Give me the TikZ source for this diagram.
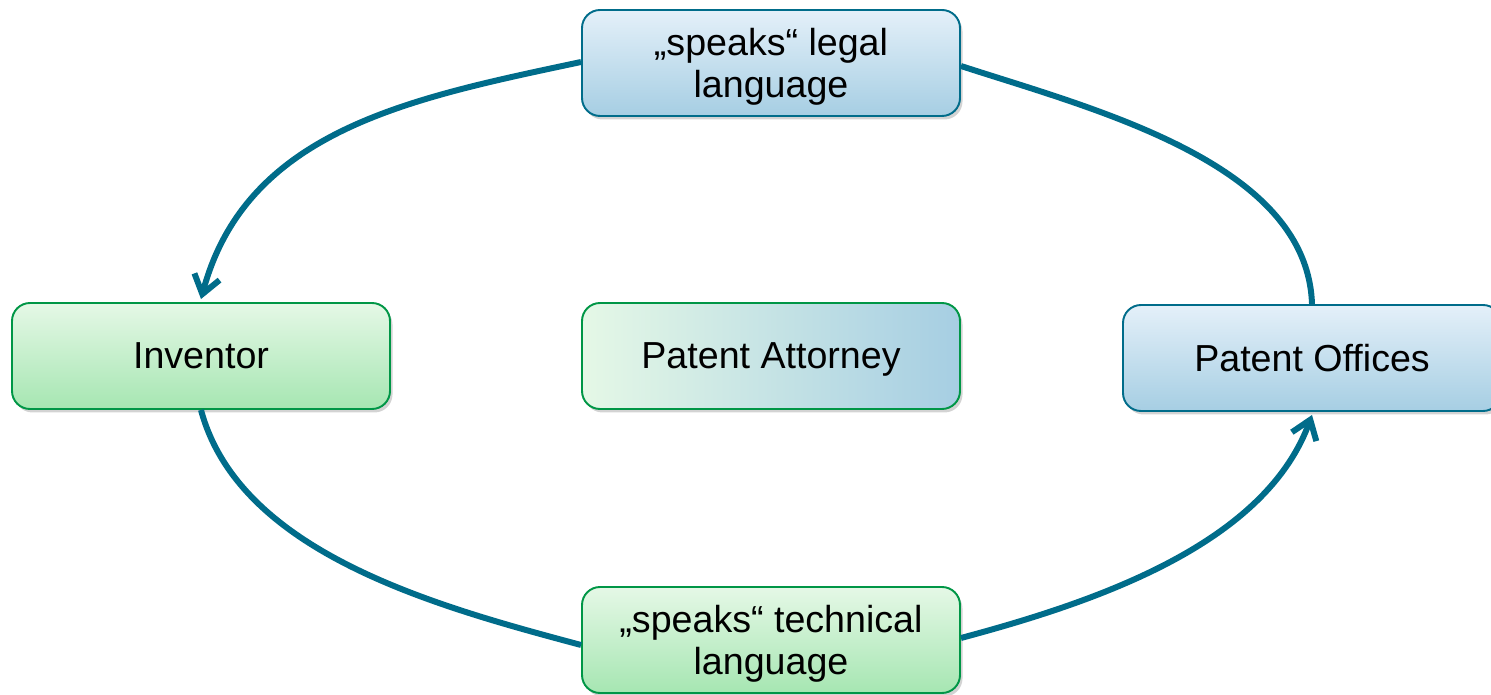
\documentclass[tikz,border=0pt]{standalone}
\usepackage{fontspec}
\setmainfont{Liberation Sans}
\usetikzlibrary{arrows.meta,shadows}
\definecolor{flowteal}{RGB}{0,108,138}
\definecolor{greenline}{RGB}{0,150,70}
\definecolor{greentop}{RGB}{229,248,230}
\definecolor{greenbot}{RGB}{166,230,178}
\definecolor{bluetop}{RGB}{228,240,249}
\definecolor{bluebot}{RGB}{166,206,227}
\begin{document}
\begin{tikzpicture}[
		box/.style={rounded corners=0.36cm, minimum width=7.56cm, minimum height=2.12cm,
			align=center, font=\fontsize{21.4}{24}\selectfont, text depth=0pt, line width=1.1pt,
			drop shadow={opacity=0.35, shadow xshift=0.05cm, shadow yshift=-0.07cm}},
		greenbox/.style={box, draw=greenline, top color=greentop, bottom color=greenbot},
		bluebox/.style={box, draw=flowteal, top color=bluetop, bottom color=bluebot},
		flow/.style={draw=flowteal, line width=3.4pt},
		tip/.style={-{Straight Barb[length=0.36cm, width=0.52cm, line width=3.4pt]}}
	]
		\useasboundingbox (0,0) rectangle (29.82,13.88);
		\clip (0,0) rectangle (29.82,13.88);
		
		\node[bluebox] (legal) at (15.42,12.62) {„speaks“ legal\\language};
		\node[greenbox] (inventor) at (4.02,6.76) {Inventor};
		\node[box, draw=greenline, left color=greentop, right color=bluebot] (attorney) at (15.42,6.76) {Patent Attorney};
		\node[bluebox] (offices) at (26.24,6.72) {Patent Offices};
		\node[greenbox] (technical) at (15.42,1.08) {„speaks“ technical\\language};
		
		\draw[flow, tip] ([yshift=0.02cm]legal.west) to[out=192, in=75] ([yshift=0.06cm]inventor.north);
		\draw[flow] (inventor.south) to[out=-75, in=165, looseness=0.85] ([yshift=-0.1cm]technical.west);
		\draw[flow, tip] ([yshift=0.04cm]technical.east) to[out=15, in=-110, looseness=0.85] ([yshift=-0.06cm]offices.south);
		\draw[flow] (offices.north) to[out=92, in=-18, looseness=0.85] ([yshift=-0.06cm]legal.east);
		
\end{tikzpicture}
\end{document}
